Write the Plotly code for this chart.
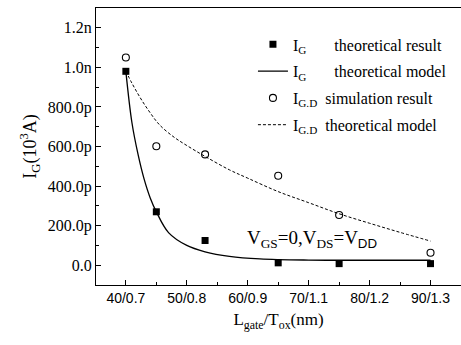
import plotly.graph_objects as go

# Data (x positions in Lgate nm; labels show Lgate/Tox)
tick_vals = [40, 50, 60, 70, 80, 90]
tick_text = ["40/0.7", "50/0.8", "60/0.9", "70/1.1", "80/1.2", "90/1.3"]

x_pts = [40, 45, 53, 65, 75, 90]
ig_theory_result = [980e-12, 270e-12, 125e-12, 12e-12, 8e-12, 8e-12]
igd_sim_result = [1050e-12, 601e-12, 560e-12, 452e-12, 254e-12, 63e-12]

ig_model_x = [40, 41, 42, 43, 44, 45, 47, 50, 53, 57, 62, 70, 80, 90]
ig_model_y = [980e-12, 720e-12, 560e-12, 435e-12, 340e-12, 270e-12, 165e-12,
              100e-12, 68e-12, 45e-12, 32e-12, 26e-12, 25e-12, 25e-12]

igd_model_x = [40, 41, 42, 43, 44, 45, 46, 48, 50, 53, 57, 60, 65, 70, 75, 80, 85, 90]
igd_model_y = [980e-12, 920e-12, 865e-12, 815e-12, 770e-12, 728e-12, 695e-12,
               645e-12, 605e-12, 550e-12, 482e-12, 440e-12, 372e-12, 316e-12,
               260e-12, 212e-12, 166e-12, 122e-12]

serif = "Liberation Serif"
sans = "Liberation Sans"

fig = go.Figure()
fig.add_trace(go.Scatter(
    x=x_pts, y=ig_theory_result, mode="markers", legendgroup="a",
    marker=dict(symbol="square", size=7, color="black"),
    name="I<sub>G</sub>&nbsp;&nbsp;&nbsp;&nbsp;&nbsp;&nbsp;&nbsp;theoretical result"))
fig.add_trace(go.Scatter(
    x=ig_model_x, y=ig_model_y, mode="lines", legendgroup="b",
    line=dict(color="black", width=1.3, shape="spline"),
    name="I<sub>G</sub>&nbsp;&nbsp;&nbsp;&nbsp;&nbsp;&nbsp;&nbsp;theoretical model"))
fig.add_trace(go.Scatter(
    x=x_pts, y=igd_sim_result, mode="markers", legendgroup="c",
    marker=dict(symbol="circle-open", size=7, color="black", line=dict(width=1.1)),
    name="I<sub>G.D</sub>&nbsp;&nbsp;simulation result"))
fig.add_trace(go.Scatter(
    x=igd_model_x, y=igd_model_y, mode="lines", legendgroup="d",
    line=dict(color="black", width=1, dash="3px,2px", shape="spline"),
    name="I<sub>G.D</sub>&nbsp;&nbsp;theoretical model"))

fig.add_annotation(
    x=59.6, y=135e-12, xref="x", yref="y", xanchor="left", yanchor="middle", showarrow=False,
    text="V<sub>GS</sub>=0,V<sub>DS</sub>=V<sub><span style='font-family:Liberation Sans'>DD</span></sub>",
    font=dict(family=serif, size=19, color="black"))

fig.update_layout(
    width=461, height=345,
    margin=dict(l=96, r=0, t=8, b=60),
    paper_bgcolor="white", plot_bgcolor="white",
    showlegend=True,
    legend=dict(x=0.43, y=0.93, xanchor="left", yanchor="top", traceorder="grouped",
                bgcolor="rgba(0,0,0,0)", font=dict(family=serif, size=16, color="black"),
                tracegroupgap=3, itemwidth=30),
    xaxis=dict(range=[35.1, 95], tickvals=tick_vals, ticktext=tick_text,
               ticks="inside", ticklen=5, tickcolor="black", showline=True, linecolor="black",
               linewidth=1.3, mirror=True, showgrid=False, zeroline=False,
               minor=dict(dtick=5, tick0=0, ticks="inside", ticklen=3, tickcolor="black"),
               tickfont=dict(family=sans, size=14, color="black"),
               title=dict(text="L<sub>gate</sub>/T<sub>ox</sub>(nm)",
                          font=dict(family=serif, size=17, color="black"), standoff=8)),
    yaxis=dict(range=[-100e-12, 1.3e-9], tickvals=[0, 200e-12, 400e-12, 600e-12, 800e-12, 1e-9, 1.2e-9],
               ticktext=["0.0", "200.0p", "400.0p", "600.0p", "800.0p", "1.0n", "1.2n"],
               ticks="inside", ticklen=5, tickcolor="black", showline=True, linecolor="black",
               linewidth=1.3, mirror=False, showgrid=False, zeroline=False,
               minor=dict(dtick=100e-12, tick0=0, ticks="inside", ticklen=3, tickcolor="black"),
               tickfont=dict(family=serif, size=16, color="black"),
               title=dict(text="I<sub>G</sub>(10<sup>3</sup>A)",
                          font=dict(family=serif, size=18, color="black"), standoff=6)),
)

fig.write_html("out.html")
